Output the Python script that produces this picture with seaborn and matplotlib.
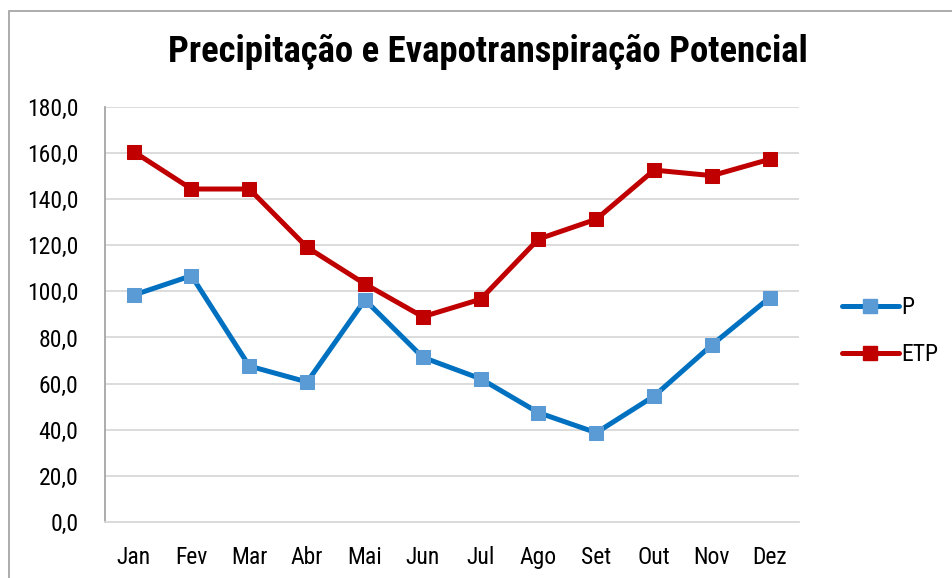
import matplotlib
matplotlib.use("Agg")
import matplotlib.pyplot as plt
import seaborn as sns
import pandas as pd
from matplotlib.font_manager import fontManager
from matplotlib.lines import Line2D
from matplotlib.patches import Rectangle

meses = ["Jan", "Fev", "Mar", "Abr", "Mai", "Jun", "Jul", "Ago", "Set", "Out", "Nov", "Dez"]
p_vals = [98.4, 106.8, 67.6, 60.7, 96.3, 71.4, 62.1, 47.4, 38.7, 54.6, 76.8, 97.3]
etp_vals = [160.6, 144.4, 144.4, 119.1, 103.2, 89.0, 96.6, 122.7, 131.3, 152.6, 150.2, 157.3]
y_ticks = [0, 20, 40, 60, 80, 100, 120, 140, 160, 180]
titulo = "Precipitação e Evapotranspiração Potencial"

sns.set_theme(style="white")
names = {f.name for f in fontManager.ttflist}
fam = "Liberation Sans"
for cand in ["Liberation Sans Narrow", "Arial Narrow", "Roboto Condensed"]:
    if cand in names:
        fam = cand
        break
plt.rcParams['font.family'] = [fam, "DejaVu Sans"]
plt.rcParams['text.color'] = "black"
plt.rcParams['xtick.color'] = "black"
plt.rcParams['ytick.color'] = "black"

df = pd.DataFrame({"mes": meses * 2,
                   "idx": list(range(12)) * 2,
                   "valor": p_vals + etp_vals,
                   "serie": ["P"] * 12 + ["ETP"] * 12})

fig = plt.figure(figsize=(9.52, 5.78), dpi=100)
ax = fig.add_axes([0.110, 0.097, 0.729, 0.718])

styles = {"P": dict(line="#0070C0", mk="#5B9BD5"),
          "ETP": dict(line="#C00000", mk="#C00000")}
for s in ["P", "ETP"]:
    sub = df[df.serie == s]
    sns.lineplot(data=sub, x="idx", y="valor", ax=ax, color=styles[s]["line"],
                 linewidth=3.6, marker="s", markersize=10.5,
                 markerfacecolor=styles[s]["mk"], markeredgecolor=styles[s]["mk"],
                 legend=False, zorder=3)

ax.set_xlim(-0.5, 11.5)
ax.set_ylim(0, 180)
ax.set_yticks(y_ticks)
ax.set_yticklabels([f"{v:.1f}".replace(".", ",") for v in y_ticks], fontsize=17)
ax.set_xticks(range(12))
ax.set_xticklabels(meses, fontsize=17)
ax.tick_params(axis="y", length=0, pad=19)
ax.tick_params(axis="x", length=0, pad=17)
ax.set_xlabel("")
ax.set_ylabel("")
ax.grid(axis="y", color="#d9d9d9", linewidth=1.3)
ax.set_axisbelow(True)
for sp in ["top", "right"]:
    ax.spines[sp].set_visible(False)
ax.spines["left"].set_color("#a6a6a6")
ax.spines["bottom"].set_color("#d9d9d9")
ax.spines["left"].set_linewidth(1.3)
ax.spines["bottom"].set_linewidth(1.3)

fig.text(0.513, 0.91, titulo, ha="center", va="center", fontsize=26.5, fontweight="bold")

handles = [Line2D([0], [0], color=styles[s]["line"], linewidth=3.6, marker="s", markersize=10.5,
                  solid_capstyle="round",
                  markerfacecolor=styles[s]["mk"], markeredgecolor=styles[s]["mk"]) for s in ["P", "ETP"]]
leg = fig.legend(handles, ["P", "ETP"], loc="center left", bbox_to_anchor=(0.862, 0.427),
                 frameon=False, fontsize=17, handlelength=2.4, handletextpad=0.1, labelspacing=1.0)

fig.patches.append(Rectangle((9 / 952, -0.1), 1.2, 1.081, transform=fig.transFigure,
                             fill=False, edgecolor="#a6a6a6", linewidth=1.3))

fig.savefig("out.png", dpi=100)
